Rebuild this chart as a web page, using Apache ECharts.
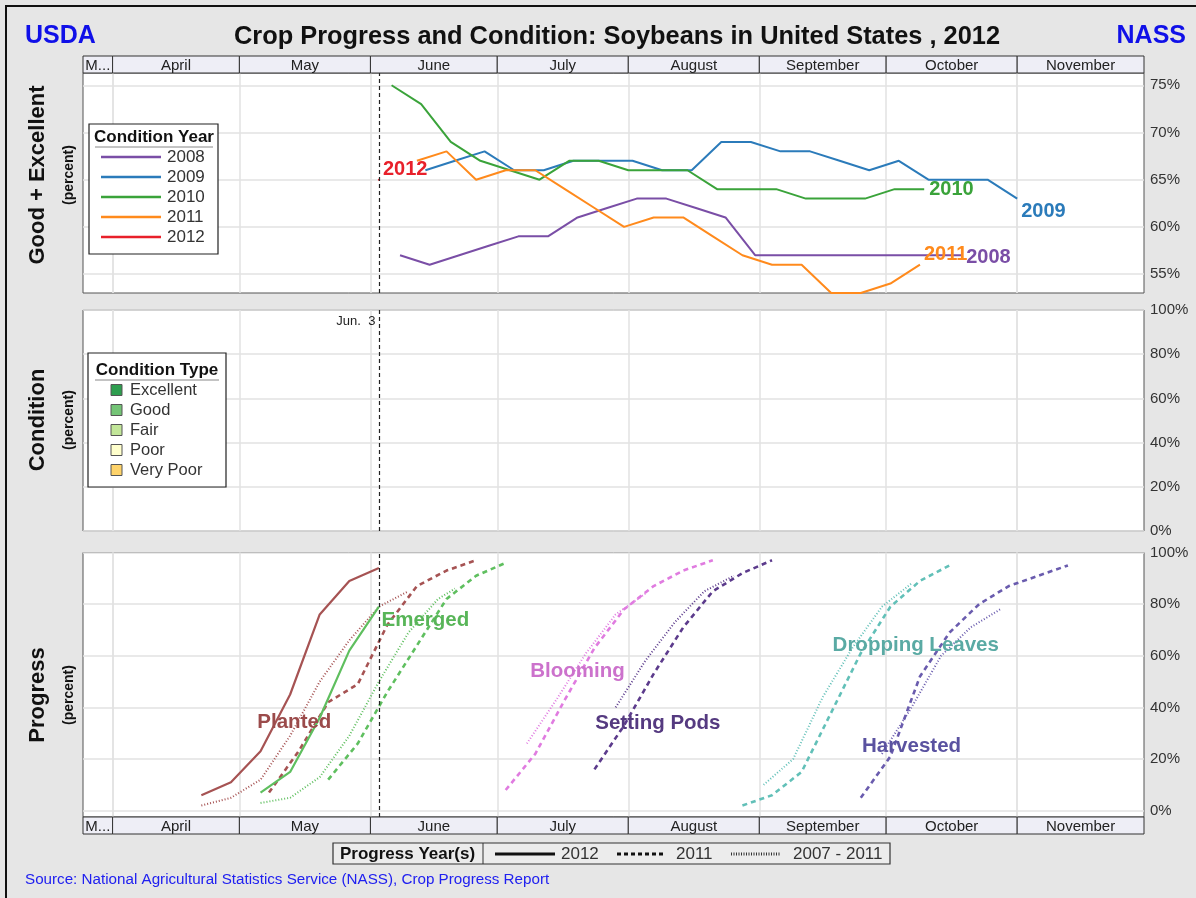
<!DOCTYPE html>
<html><head><meta charset="utf-8">
<script src="https://cdn.jsdelivr.net/npm/echarts@6/dist/echarts.min.js"></script>
<style>html,body{margin:0;padding:0;background:#e6e6e6}#c{width:1196px;height:898px}</style>
</head><body><div id="c"></div><script>
// ---------- DATA ----------
const xMinDate = '03-25';
const xMaxDate = '12-01';
const monthNames = ['M...','April','May','June','July','August','September','October','November'];
const monthStartDates = ['03-25','04-01','05-01','06-01','07-01','08-01','09-01','10-01','11-01'];
const monthEndDates   = ['04-01','05-01','06-01','07-01','08-01','09-01','10-01','11-01','12-01'];
const markDate = '06-03';

// Top panel: Good + Excellent condition (percent)
const condYears = ['2008','2009','2010','2011','2012'];
const cond2008Dates = ['06-08','06-15','06-22','06-29','07-06','07-13','07-20','07-27','08-03','08-10','08-17','08-24','08-31','09-07','09-14','09-21','09-28','10-05','10-12','10-19'];
const cond2008 = [57,56,57,58,59,59,61,62,63,63,62,61,57,57,57,57,57,57,57,57];
const cond2009Dates = ['06-14','06-21','06-28','07-05','07-12','07-19','07-26','08-02','08-09','08-16','08-23','08-30','09-06','09-13','09-20','09-27','10-04','10-11','10-18','10-25','11-01'];
const cond2009 = [66,67,68,66,66,67,67,67,66,66,69,69,68,68,67,66,67,65,65,65,63];
const cond2010Dates = ['06-06','06-13','06-20','06-27','07-04','07-11','07-18','07-25','08-01','08-08','08-15','08-22','08-29','09-05','09-12','09-19','09-26','10-03','10-10'];
const cond2010 = [75,73,69,67,66,65,67,67,66,66,66,64,64,64,63,63,63,64,64];
const cond2011Dates = ['06-12','06-19','06-26','07-03','07-10','07-17','07-24','07-31','08-07','08-14','08-21','08-28','09-04','09-11','09-18','09-25','10-02','10-09'];
const cond2011 = [67,68,65,66,66,64,62,60,61,61,59,57,56,56,53,53,54,56];
const cond2012Dates = ['06-03'];
const cond2012 = [65];

// Middle panel legend
const condTypes = ['Excellent','Good','Fair','Poor','Very Poor'];

// Bottom panel: progress (percent)
const stages = ['Planted','Emerged','Blooming','Setting Pods','Dropping Leaves','Harvested'];
const plant2012Dates = ['04-22','04-29','05-06','05-13','05-20','05-27','06-03'];
const plant2012 = [6,11,23,45,76,89,94];
const plant2011Dates = ['05-08','05-15','05-22','05-29','06-05','06-12','06-19','06-26'];
const plant2011 = [7,23,42,49,72,87,93,97];
const plantAvgDates = ['04-22','04-29','05-06','05-13','05-20','05-27','06-03','06-10'];
const plantAvg = [2,5,12,29,50,66,79,85];

const emerg2012Dates = ['05-06','05-13','05-20','05-27','06-03'];
const emerg2012 = [7,15,36,62,79];
const emerg2011Dates = ['05-22','05-29','06-05','06-12','06-19','06-26','07-03'];
const emerg2011 = [12,26,46,64,82,91,96];
const emergAvgDates = ['05-06','05-13','05-20','05-27','06-03','06-10','06-17','06-21'];
const emergAvg = [3,5,13,29,50,69,82,86];

const bloom2011Dates = ['07-03','07-10','07-17','07-24','07-31','08-07','08-14','08-21'];
const bloom2011 = [8,22,43,63,78,87,93,97];
const bloomAvgDates = ['07-08','07-15','07-22','07-29','08-05'];
const bloomAvg = [26,43,61,76,84];

const pods2011Dates = ['07-24','07-31','08-07','08-14','08-21','08-28','09-04'];
const pods2011 = [16,33,53,71,85,92,97];
const podsAvgDates = ['07-29','08-05','08-12','08-19','08-26'];
const podsAvg = [40,58,73,85,91];

const leaves2011Dates = ['08-28','09-04','09-11','09-18','09-25','10-02','10-09','10-16'];
const leaves2011 = [2,6,15,38,61,79,89,95];
const leavesAvgDates = ['09-02','09-09','09-16','09-23','09-30','10-07'];
const leavesAvg = [10,20,44,63,79,88];

const harv2011Dates = ['09-25','10-02','10-09','10-16','10-23','10-30','11-06','11-13'];
const harv2011 = [5,21,52,69,80,87,91,95];
const harvAvgDates = ['09-30','10-07','10-14','10-21','10-28'];
const harvAvg = [22,40,60,71,78];

const topTicks = [55,60,65,70,75];
const pctTicks = [0,20,40,60,80,100];
const progressYears = ['2012','2011','2007 - 2011'];

// ---------- HELPERS ----------
function ts(md){ const p = md.split('-').map(Number); return new Date(2012, p[0]-1, p[1]).getTime(); }
function pts(dates, vals){ return dates.map((d,i)=>[ts(d), vals[i]]); }
const FONT = 'Liberation Sans, Arial, sans-serif';

const yearColors = ['#7a4ea6','#2b7bba','#3aa33a','#ff8a1c','#e8202a'];
const typeColors = ['#2e9e4f','#74c476','#c2e699','#ffffcc','#fed36a'];
const stageColors = ['#a65353','#5fbf5f','#e07ce0','#5c3b8c','#62c0b8','#6a5cae'];
const stageLabelColors = ['#9b4b4b','#58b558','#cc72cc','#553a80','#5aaaa4','#5a52a0'];

const monthTicks = monthStartDates.slice(1).map(ts);
const gridLineColor = '#e2e2e2';

const grids = [
  {left:83, top:73, width:1061, height:220},
  {left:83, top:310, width:1061, height:221},
  {left:83, top:552.5, width:1061, height:264.5}
].map(g=>Object.assign({show:true, borderColor:'#555', borderWidth:1, backgroundColor:'#fff'}, g));

const xAxes = [0,1,2].map(i=>({
  type:'time', gridIndex:i, min: ts(xMinDate), max: ts(xMaxDate),
  axisLabel:{show:false}, axisLine:{show:false},
  axisTick:{show:false, customValues: monthTicks},
  splitLine:{show:true, lineStyle:{color:gridLineColor, width:1.5}}
}));

const yLabel = {formatter:'{value}%', color:'#333', fontSize:15, fontFamily:FONT, margin:6};
const yAxes = [
  {type:'value', gridIndex:0, position:'right', min:53, max:76.3,
   axisLabel:Object.assign({customValues:topTicks}, yLabel),
   axisTick:{show:false, customValues:topTicks}, axisLine:{show:false},
   splitLine:{show:true, lineStyle:{color:gridLineColor, width:1.5}}},
  {type:'value', gridIndex:1, position:'right', min:0, max:100,
   axisLabel:Object.assign({customValues:pctTicks}, yLabel),
   axisTick:{show:false, customValues:pctTicks}, axisLine:{show:false},
   splitLine:{show:true, lineStyle:{color:gridLineColor, width:1.5}}},
  {type:'value', gridIndex:2, position:'right', min:-2.45, max:100,
   axisLabel:Object.assign({customValues:pctTicks}, yLabel),
   axisTick:{show:false, customValues:pctTicks}, axisLine:{show:false},
   splitLine:{show:true, lineStyle:{color:gridLineColor, width:1.5}}}
];

const markLineJun3 = {silent:true, symbol:'none', animation:false,
  label:{show:false}, lineStyle:{color:'#222', type:[4,3], width:1.2},
  data:[{xAxis: ts(markDate)}]};

function monthBand(pos){
  return function(params, api){
    const cs = params.coordSys;
    const x0 = api.coord([api.value(0), 60])[0];
    const x1 = api.coord([api.value(1), 60])[0];
    const h = 17;
    const y = pos==='top' ? cs.y - h : cs.y + cs.height;
    return {type:'group', children:[
      {type:'rect', shape:{x:x0, y:y, width:x1-x0, height:h},
       style:{fill:'#eeeef6', stroke:'#333', lineWidth:1}},
      {type:'text', style:{text: monthNames[params.dataIndex], x:(x0+x1)/2, y:y+h/2+1,
        align:'center', verticalAlign:'middle', font:'15px '+FONT, fill:'#222'}}
    ]};
  };
}
const monthData = monthStartDates.map((d,i)=>[ts(d), ts(monthEndDates[i])]);

const series = [];
// Month header bands
series.push({type:'custom', xAxisIndex:0, yAxisIndex:0, clip:false, z:10, silent:true,
  renderItem: monthBand('top'), data: monthData, encode:{x:[0,1]}});
series.push({type:'custom', xAxisIndex:2, yAxisIndex:2, clip:false, z:10, silent:true,
  renderItem: monthBand('bottom'), data: monthData, encode:{x:[0,1]}});

// Top condition lines
const condDates = [cond2008Dates,cond2009Dates,cond2010Dates,cond2011Dates,cond2012Dates];
const condVals = [cond2008,cond2009,cond2010,cond2011,cond2012];
const endOffsets = [[0,2],[0,13],[1,0],[0,-10],[0,-10]];
condYears.forEach((y,i)=>{
  const s = {type:'line', name:y, xAxisIndex:0, yAxisIndex:0,
    data: pts(condDates[i], condVals[i]),
    showSymbol: i===4, symbol:'circle', symbolSize:2,
    itemStyle:{color:yearColors[i]},
    lineStyle:{color:yearColors[i], width:2},
    endLabel:{show:true, formatter:y, color:yearColors[i], fontWeight:'bold', fontSize:20,
      fontFamily:FONT, offset:endOffsets[i], distance:4},
    animation:false, z:3};
  if (i===4) s.markLine = markLineJun3;
  series.push(s);
});

// Middle panel: no data; Jun 3 label + dashed line
series.push({type:'scatter', xAxisIndex:1, yAxisIndex:1, data:[[ts(markDate), 95]],
  symbolSize:1, itemStyle:{color:'rgba(0,0,0,0)', opacity:1},
  label:{show:true, position:'left', formatter:'Jun.  3', color:'#222', opacity:1, fontSize:13, fontFamily:FONT, distance:3},
  markLine: markLineJun3, silent:true, animation:false});

// Bottom progress lines
const solidStyle = {width:2.2, type:'solid'};
const dashStyle = {width:2.6, type:[5,4]};
const dotStyle = {width:2, type:[1,2]};
const progress = [
  [0, plant2012Dates, plant2012, solidStyle],
  [0, plant2011Dates, plant2011, dashStyle],
  [0, plantAvgDates, plantAvg, dotStyle],
  [1, emerg2012Dates, emerg2012, solidStyle],
  [1, emerg2011Dates, emerg2011, dashStyle],
  [1, emergAvgDates, emergAvg, dotStyle],
  [2, bloom2011Dates, bloom2011, dashStyle],
  [2, bloomAvgDates, bloomAvg, dotStyle],
  [3, pods2011Dates, pods2011, dashStyle],
  [3, podsAvgDates, podsAvg, dotStyle],
  [4, leaves2011Dates, leaves2011, dashStyle],
  [4, leavesAvgDates, leavesAvg, dotStyle],
  [5, harv2011Dates, harv2011, dashStyle],
  [5, harvAvgDates, harvAvg, dotStyle]
];
progress.forEach((p,k)=>{
  const s = {type:'line', name:stages[p[0]], xAxisIndex:2, yAxisIndex:2, data:pts(p[1], p[2]),
    showSymbol:false, lineStyle:Object.assign({color:stageColors[p[0]]}, p[3]),
    itemStyle:{color:stageColors[p[0]]}, animation:false, z:3};
  if (k===0) s.markLine = markLineJun3;
  series.push(s);
});

// Stage annotation labels (anchored in data coordinates)
const stageLabelDates = ['05-14','06-14','07-20','08-08','10-08','10-07'];
const stageLabelVals = [34.4,73.9,53.8,34.0,63.9,24.9];
series.push({type:'scatter', xAxisIndex:2, yAxisIndex:2, symbolSize:1, silent:true, z:5,
  itemStyle:{color:'rgba(0,0,0,0)', opacity:1}, animation:false,
  label:{show:true, position:'inside', fontWeight:'bold', fontSize:20.5, fontFamily:FONT, opacity:1,
    formatter: p => stages[p.dataIndex]},
  data: stages.map((n,i)=>({value:[ts(stageLabelDates[i]), stageLabelVals[i]],
    label:{color:stageLabelColors[i], opacity:1}}))});

// ---------- GRAPHICS (titles, legends) ----------
const graphic = [];
graphic.push({type:'rect', shape:{x:6,y:6,width:1210,height:910}, style:{fill:'none', stroke:'#111', lineWidth:2}, z:-1});
graphic.push({type:'text', x:25, y:36, style:{text:'USDA', font:'bold 25px '+FONT, fill:'#1010e8', verticalAlign:'middle'}});
graphic.push({type:'text', x:1186, y:36, style:{text:'NASS', font:'bold 25px '+FONT, fill:'#1010e8', align:'right', verticalAlign:'middle'}});
graphic.push({type:'text', x:617, y:37, style:{text:'Crop Progress and Condition: Soybeans in United States , 2012', font:'bold 25.4px '+FONT, fill:'#111', align:'center', verticalAlign:'middle'}});

function vtitle(main, cy){
  graphic.push({type:'text', x:38, y:cy, rotation:Math.PI/2, style:{text:main, font:'bold 22px '+FONT, fill:'#111', align:'center', verticalAlign:'middle'}});
  graphic.push({type:'text', x:69, y:cy, rotation:Math.PI/2, style:{text:'(percent)', font:'bold 14px '+FONT, fill:'#111', align:'center', verticalAlign:'middle'}});
}
vtitle('Good + Excellent', 175);
vtitle('Condition', 420);
vtitle('Progress', 695);

const ZL = 100;
// Condition Year legend
graphic.push({type:'rect', z:ZL, shape:{x:89,y:124,width:129,height:130}, style:{fill:'#fff', stroke:'#222', lineWidth:1.2}});
graphic.push({type:'text', z:ZL, x:154, y:137, style:{text:'Condition Year', font:'bold 17px '+FONT, fill:'#111', align:'center', verticalAlign:'middle'}});
graphic.push({type:'line', z:ZL, shape:{x1:95,y1:147,x2:213,y2:147}, style:{stroke:'#888', lineWidth:1}});
condYears.forEach((y,i)=>{
  const yy = 157 + i*20;
  graphic.push({type:'line', z:ZL, shape:{x1:101,y1:yy,x2:161,y2:yy}, style:{stroke:yearColors[i], lineWidth:2.5}});
  graphic.push({type:'text', z:ZL, x:167, y:yy, style:{text:y, font:'17px '+FONT, fill:'#333', verticalAlign:'middle'}});
});

// Condition Type legend
graphic.push({type:'rect', z:ZL, shape:{x:88,y:353,width:138,height:134}, style:{fill:'#fff', stroke:'#222', lineWidth:1.2}});
graphic.push({type:'text', z:ZL, x:157, y:370, style:{text:'Condition Type', font:'bold 17px '+FONT, fill:'#111', align:'center', verticalAlign:'middle'}});
graphic.push({type:'line', z:ZL, shape:{x1:95,y1:380,x2:219,y2:380}, style:{stroke:'#888', lineWidth:1}});
condTypes.forEach((t,i)=>{
  const yy = 390 + i*20;
  graphic.push({type:'rect', z:ZL, shape:{x:111,y:yy-5.5,width:11,height:11}, style:{fill:typeColors[i], stroke:'#555', lineWidth:1}});
  graphic.push({type:'text', z:ZL, x:130, y:yy, style:{text:t, font:'16.5px '+FONT, fill:'#333', verticalAlign:'middle'}});
});

// Progress Year(s) legend
const lg3 = [{type:'rect', shape:{x:333,y:843,width:557,height:21}, style:{fill:'#ececec', stroke:'#333', lineWidth:1.2}},
  {type:'line', shape:{x1:483,y1:843,x2:483,y2:864}, style:{stroke:'#333', lineWidth:1}},
  {type:'text', x:340, y:854, style:{text:'Progress Year(s)', font:'bold 17px '+FONT, fill:'#111', verticalAlign:'middle'}},
  {type:'line', shape:{x1:495,y1:854,x2:555,y2:854}, style:{stroke:'#111', lineWidth:3}},
  {type:'text', x:561, y:854, style:{text:progressYears[0], font:'17px '+FONT, fill:'#333', verticalAlign:'middle'}},
  {type:'line', shape:{x1:617,y1:854,x2:664,y2:854}, style:{stroke:'#111', lineWidth:3, lineDash:[4,3]}},
  {type:'text', x:676, y:854, style:{text:progressYears[1], font:'17px '+FONT, fill:'#333', verticalAlign:'middle'}},
  {type:'line', shape:{x1:731,y1:854,x2:780,y2:854}, style:{stroke:'#333', lineWidth:3, lineDash:[1,1.5]}},
  {type:'text', x:793, y:854, style:{text:progressYears[2], font:'17px '+FONT, fill:'#333', verticalAlign:'middle'}}];
lg3.forEach(e=>{ e.z = ZL; graphic.push(e); });

graphic.push({type:'text', x:25, y:880, style:{text:'Source: National Agricultural Statistics Service (NASS), Crop Progress Report', font:'15.2px '+FONT, fill:'#2020f0', verticalAlign:'middle'}});

const chart = echarts.init(document.getElementById('c'), null, {renderer:'canvas'});
chart.setOption({
  backgroundColor:'#e6e6e6',
  animation:false,
  grid: grids, xAxis: xAxes, yAxis: yAxes,
  series: series,
  graphic: graphic
});
</script></body></html>
